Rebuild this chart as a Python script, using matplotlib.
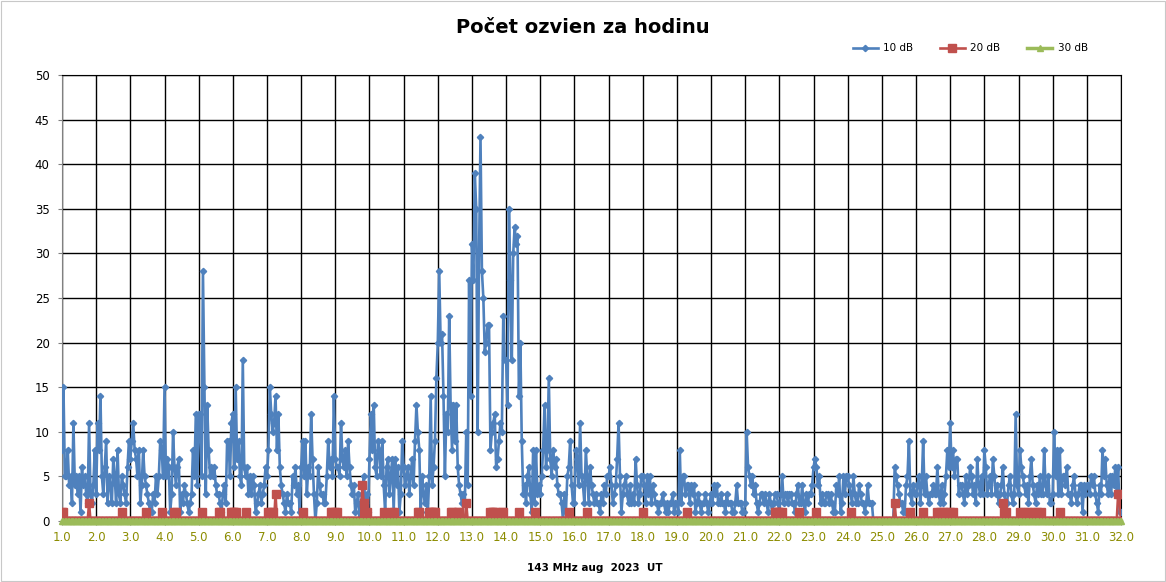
import numpy as np
import matplotlib
matplotlib.use('Agg')
import matplotlib.pyplot as plt
from matplotlib.patches import Rectangle

# echo counts per hour, one row per day of August 2023 (hours 0..23)
db10_days = [
    [8, 15, 5, 5, 8, 4, 5, 2, 11, 4, 5, 3, 5, 1, 6, 4, 5, 3, 2, 11, 3, 2, 4, 8],
    [3, 11, 8, 14, 5, 3, 6, 9, 2, 5, 4, 2, 7, 5, 2, 8, 3, 2, 5, 4, 3, 2, 6, 9],
    [7, 9, 11, 8, 7, 5, 8, 2, 4, 8, 5, 4, 3, 2, 1, 1, 3, 2, 5, 3, 5, 9, 8, 5],
    [15, 5, 7, 6, 1, 3, 10, 6, 4, 6, 7, 1, 3, 2, 4, 3, 2, 1, 2, 3, 8, 5, 12, 4],
    [12, 12, 5, 28, 15, 3, 13, 8, 5, 6, 5, 6, 4, 3, 3, 2, 1, 3, 4, 2, 9, 9, 5, 11],
    [12, 6, 15, 7, 9, 5, 4, 18, 6, 5, 6, 3, 5, 3, 5, 4, 1, 2, 3, 4, 2, 3, 4, 6],
    [5, 8, 15, 12, 10, 11, 14, 8, 12, 6, 4, 3, 2, 1, 3, 2, 2, 1, 5, 4, 6, 3, 4, 1],
    [6, 9, 5, 9, 3, 6, 5, 12, 7, 3, 0, 2, 6, 4, 3, 3, 2, 2, 5, 9, 6, 7, 5, 14],
    [7, 6, 6, 5, 11, 7, 6, 8, 5, 9, 6, 4, 3, 4, 1, 2, 3, 0, 2, 3, 5, 2, 3, 1],
    [7, 12, 8, 13, 6, 5, 9, 8, 5, 9, 4, 1, 6, 7, 3, 5, 7, 1, 7, 4, 6, 1, 3, 9],
    [6, 4, 5, 6, 3, 5, 7, 4, 9, 13, 10, 8, 1, 5, 3, 2, 4, 1, 5, 14, 4, 6, 9, 16],
    [20, 28, 20, 21, 14, 5, 12, 10, 23, 13, 8, 13, 9, 13, 6, 4, 3, 2, 3, 2, 10, 4, 27, 14],
    [31, 27, 39, 35, 10, 30, 43, 28, 25, 19, 20, 22, 22, 8, 10, 11, 12, 6, 7, 9, 11, 10, 23, 18],
    [18, 13, 35, 27, 18, 30, 33, 31, 32, 14, 20, 9, 3, 4, 2, 5, 6, 3, 1, 8, 2, 8, 3, 4],
    [3, 5, 8, 13, 6, 8, 16, 7, 5, 8, 6, 7, 4, 3, 3, 2, 0, 3, 1, 5, 6, 9, 4, 2],
    [2, 8, 7, 4, 11, 5, 4, 2, 8, 5, 2, 6, 4, 3, 2, 3, 2, 2, 1, 3, 2, 4, 3, 5],
    [5, 6, 4, 2, 3, 4, 7, 11, 5, 1, 3, 4, 5, 3, 2, 4, 2, 3, 2, 7, 4, 2, 3, 5],
    [5, 4, 2, 5, 3, 5, 2, 4, 3, 2, 2, 1, 2, 2, 3, 2, 1, 2, 1, 2, 2, 3, 1, 2],
    [2, 1, 8, 2, 5, 5, 3, 4, 4, 2, 4, 3, 4, 1, 2, 3, 2, 1, 2, 2, 3, 2, 1, 2],
    [3, 2, 4, 3, 4, 2, 2, 3, 2, 2, 1, 3, 2, 2, 2, 1, 1, 2, 4, 2, 2, 2, 1, 1],
    [2, 10, 6, 5, 4, 5, 3, 4, 2, 1, 2, 3, 3, 2, 3, 2, 1, 3, 2, 1, 2, 3, 3, 2],
    [1, 3, 5, 2, 3, 3, 2, 3, 3, 2, 2, 1, 3, 4, 2, 2, 4, 2, 1, 3, 2, 3, 3, 4],
    [6, 7, 6, 4, 5, 2, 3, 2, 2, 3, 3, 2, 3, 2, 1, 1, 4, 3, 5, 1, 2, 5, 3, 5],
    [5, 4, 3, 2, 5, 3, 2, 2, 4, 3, 2, 2, 1, 2, 4, 2, 2, 2, 0, 0, 0, 0, 0, 0],
    [0, 0, 0, 0, 0, 0, 0, 0, 0, 6, 5, 4, 3, 2, 2, 1, 1, 4, 5, 9, 3, 2, 4, 3],
    [3, 4, 5, 2, 4, 9, 3, 5, 3, 2, 3, 3, 4, 3, 3, 6, 3, 2, 4, 2, 3, 5, 8, 6],
    [11, 6, 8, 5, 7, 7, 3, 4, 4, 3, 2, 5, 3, 4, 6, 5, 3, 4, 2, 7, 4, 3, 5, 3],
    [8, 6, 3, 4, 5, 3, 7, 5, 3, 4, 2, 3, 4, 6, 3, 2, 2, 4, 5, 3, 2, 3, 12, 4],
    [3, 8, 6, 5, 4, 3, 4, 2, 5, 7, 4, 3, 2, 4, 3, 5, 3, 3, 8, 4, 3, 5, 2, 2],
    [3, 10, 5, 8, 3, 8, 3, 5, 5, 4, 6, 3, 3, 2, 4, 5, 3, 2, 3, 4, 4, 1, 4, 3],
    [4, 4, 3, 5, 4, 5, 3, 2, 1, 4, 3, 8, 5, 7, 4, 3, 5, 3, 5, 4, 6, 3, 6, 1],
]
db10_last = [1]   # value at 32.0

db20_days = [
    [1, 1, 0, 0, 0, 0, 0, 0, 0, 0, 0, 0, 0, 0, 0, 0, 0, 0, 0, 2, 0, 0, 0, 0],
    [0, 0, 0, 0, 0, 0, 0, 0, 0, 0, 0, 0, 0, 0, 0, 0, 0, 0, 1, 0, 0, 0, 0, 0],
    [0, 0, 0, 0, 0, 0, 0, 0, 0, 0, 0, 1, 0, 0, 0, 0, 0, 0, 0, 0, 0, 0, 1, 0],
    [0, 0, 0, 0, 0, 0, 0, 1, 1, 0, 0, 0, 0, 0, 0, 0, 0, 0, 0, 0, 0, 0, 0, 0],
    [0, 0, 1, 0, 0, 0, 0, 0, 0, 0, 0, 0, 0, 0, 1, 1, 0, 0, 0, 0, 0, 0, 0, 1],
    [1, 1, 1, 0, 0, 0, 0, 0, 0, 1, 0, 0, 0, 0, 0, 0, 0, 0, 0, 0, 0, 0, 0, 0],
    [0, 1, 1, 0, 1, 0, 3, 0, 0, 0, 0, 0, 0, 0, 0, 0, 0, 0, 0, 0, 0, 0, 0, 0],
    [0, 1, 0, 0, 0, 0, 0, 0, 0, 0, 0, 0, 0, 0, 0, 0, 0, 0, 0, 0, 0, 1, 1, 0],
    [1, 1, 0, 0, 0, 0, 0, 0, 0, 0, 0, 0, 0, 0, 0, 0, 0, 0, 0, 4, 2, 1, 1, 0],
    [0, 0, 0, 0, 0, 0, 0, 0, 0, 0, 1, 0, 0, 0, 0, 0, 1, 1, 0, 0, 0, 0, 0, 0],
    [0, 0, 0, 0, 0, 0, 0, 0, 0, 0, 1, 1, 0, 0, 0, 0, 0, 0, 1, 1, 1, 1, 1, 0],
    [0, 0, 0, 0, 0, 0, 0, 0, 0, 1, 1, 0, 0, 0, 1, 1, 0, 0, 0, 0, 2, 0, 0, 0],
    [0, 0, 0, 0, 0, 0, 0, 0, 0, 0, 0, 0, 0, 1, 1, 1, 1, 0, 0, 0, 0, 1, 1, 0],
    [0, 0, 0, 0, 0, 0, 0, 0, 0, 1, 0, 0, 0, 0, 0, 0, 0, 0, 0, 0, 1, 0, 0, 0],
    [0, 0, 0, 0, 0, 0, 0, 0, 0, 0, 0, 0, 0, 0, 0, 0, 0, 0, 0, 0, 1, 0, 0, 0],
    [0, 0, 0, 0, 0, 0, 0, 0, 0, 1, 0, 0, 0, 0, 0, 0, 0, 0, 0, 0, 0, 0, 0, 0],
    [0, 0, 0, 0, 0, 0, 0, 0, 0, 0, 0, 0, 0, 0, 0, 0, 0, 0, 0, 0, 0, 0, 0, 0],
    [1, 0, 0, 0, 0, 0, 0, 0, 0, 0, 0, 0, 0, 0, 0, 0, 0, 0, 0, 0, 0, 0, 0, 0],
    [0, 0, 0, 0, 0, 0, 0, 1, 0, 0, 0, 0, 0, 0, 0, 0, 0, 0, 0, 0, 0, 0, 0, 0],
    [0, 0, 0, 0, 0, 0, 0, 0, 0, 0, 0, 0, 0, 0, 0, 0, 0, 0, 0, 0, 0, 0, 0, 0],
    [0, 0, 0, 0, 0, 0, 0, 0, 0, 0, 0, 0, 0, 0, 0, 0, 0, 0, 0, 0, 0, 1, 1, 1],
    [1, 0, 1, 0, 0, 0, 0, 0, 0, 0, 0, 0, 0, 0, 1, 0, 0, 0, 0, 0, 0, 0, 0, 0],
    [0, 0, 1, 0, 0, 0, 0, 0, 0, 0, 0, 0, 0, 0, 0, 0, 0, 0, 0, 0, 0, 0, 0, 0],
    [0, 0, 1, 0, 0, 0, 0, 0, 0, 0, 0, 0, 0, 0, 0, 0, 0, 0, 0, 0, 0, 0, 0, 0],
    [0, 0, 0, 0, 0, 0, 0, 0, 0, 2, 0, 0, 0, 0, 0, 0, 0, 0, 0, 0, 1, 0, 0, 0],
    [0, 0, 0, 0, 0, 1, 0, 0, 0, 0, 0, 0, 0, 0, 0, 1, 0, 1, 0, 1, 0, 1, 0, 0],
    [1, 0, 1, 0, 0, 0, 0, 0, 0, 0, 0, 0, 0, 0, 0, 0, 0, 0, 0, 0, 0, 0, 0, 0],
    [0, 0, 0, 0, 0, 0, 0, 0, 0, 0, 0, 0, 0, 2, 1, 1, 0, 0, 0, 0, 0, 0, 0, 0],
    [0, 1, 0, 0, 1, 0, 0, 1, 0, 0, 1, 0, 0, 1, 0, 0, 1, 0, 0, 0, 0, 0, 0, 0],
    [0, 0, 0, 0, 0, 1, 0, 0, 0, 0, 0, 0, 0, 0, 0, 0, 0, 0, 0, 0, 0, 0, 0, 0],
    [0, 0, 0, 0, 0, 0, 0, 0, 0, 0, 0, 0, 0, 0, 0, 0, 0, 0, 0, 0, 0, 0, 3, 3],
]
db20_last = [0]

series_names = ['10 dB', '20 dB', '30 dB']
series_colors = ['#4F81BD', '#C0504D', '#9BBB59']

db10 = np.array(sum(db10_days, []) + db10_last)
db20 = np.array(sum(db20_days, []) + db20_last)
db30 = np.zeros(len(db10))   # 30 dB: no hour above zero in the whole month
x = 1 + np.arange(len(db10)) / 24.0

fig = plt.figure(figsize=(11.66, 5.82), dpi=100)
ax = fig.add_axes([0.0532, 0.1048, 0.9082, 0.7663])

ax.plot(x, db10, color=series_colors[0], lw=1.9, marker='D', ms=3.2,
        mec=series_colors[0], label=series_names[0], zorder=3)
ax.plot(x, db20, color=series_colors[1], lw=1.9, marker='s', ms=5.5,
        mec=series_colors[1], label=series_names[1], zorder=4)
ax.plot(x, db30, color=series_colors[2], lw=2.5, marker='^', ms=4.5,
        mec=series_colors[2], label=series_names[2], zorder=5, clip_on=False)

ax.set_xlim(1, 32)
ax.set_ylim(0, 50)
ax.set_xticks(np.arange(1, 33))
ax.set_xticklabels(['%.1f' % d for d in range(1, 33)])
ax.set_yticks(np.arange(0, 51, 5))
ax.tick_params(axis='x', labelcolor='#8C8C00', labelsize=8.5, length=3, width=0.8,
               color='#808080', pad=4)
ax.tick_params(axis='y', labelsize=8.5, length=3, width=0.8, color='#808080', pad=6)
ax.grid(True, color='black', lw=1.0)
ax.set_axisbelow(True)
for s in ['top', 'right']:
    ax.spines[s].set_color('black')
for s in ['left', 'bottom']:
    ax.spines[s].set_color('#808080')

fig.text(0.5, 0.953, 'Počet ozvien za hodinu', ha='center', va='center',
         fontsize=14, fontweight='bold')
fig.text(0.51, 0.024, '143 MHz aug  2023  UT', ha='center', va='center',
         fontsize=7.5, fontweight='bold')

fig.legend(loc='center', bbox_to_anchor=(0.832, 0.917), ncol=3, frameon=False,
           fontsize=7.5, handlelength=2.4, columnspacing=2.6, handletextpad=0.5)

fig.patches.append(Rectangle((0.001, 0.001), 0.998, 0.997, transform=fig.transFigure,
                             fill=False, ec='#c8c8c8', lw=0.8))

fig.savefig('out.png', dpi=100)
